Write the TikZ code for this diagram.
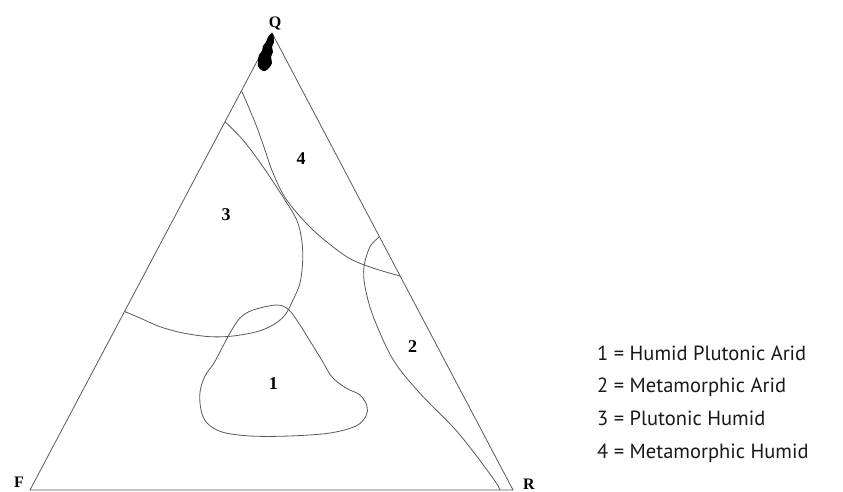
\documentclass[tikz,border=0pt]{standalone}
\usepackage{fontspec}
\setmainfont{Liberation Serif}
\newfontfamily\legendfont{PT Sans}
\begin{document}
\begin{tikzpicture}[x=1pt,y=-1pt,
  edge/.style={draw=black!65,line width=0.8pt},
  bound/.style={draw=black!65,line width=0.8pt,smooth,tension=0.55},
  vlab/.style={font=\fontsize{16}{16}\selectfont\bfseries,inner sep=0pt,anchor=base},
  numlab/.style={font=\fontsize{18}{18}\selectfont\bfseries,inner sep=0pt,anchor=base},
  leg/.style={font=\legendfont\fontsize{20.5}{20.5}\selectfont,inner sep=0pt,anchor=base west,text=black!90}]
\useasboundingbox (0,0) rectangle (843,491);
% vertices
\coordinate (F) at (30,490);
\coordinate (R) at (513,490);
\coordinate (Q) at (272,33);
\draw[edge] (F) -- (R) -- (Q) -- cycle;
% vertex labels
\node[vlab] (qlab) at (275,27) {Q};
\node[vlab] (flab) at (19,487) {F};
\node[vlab] (rlab) at (529,489) {R};
% data cluster near Q
\fill[black] plot[smooth cycle,tension=0.5] coordinates {(272,33) (268,37) (266,42) (263,46) (262,51) (259,55) (258,61) (258,66) (261,70) (265,71) (269,68) (272,63) (271,57) (273,52) (272,47) (274,42) (273.5,36)};
% region 4 boundary
\draw[bound] plot coordinates {(241.5,90.7) (249,108) (256.7,126.7) (265,150) (273,173) (286.7,200) (313,230) (346.7,256.7) (373,268) (400.1,276)};
% region 3 boundary
\draw[bound] plot coordinates {(225,121.7) (243,140) (263,166.7) (283,197) (296.7,220) (301.7,240) (302.7,260) (300,283) (293,300) (285,315) (273,325) (256.7,331.7) (233,336) (210,336.7) (183,333) (160,326.7) (140,318) (124.5,311.5)};
% region 1 boundary
\draw[bound] plot[smooth cycle] coordinates {(253,310) (276.7,305) (289,310) (300,325) (310,341) (321.7,360) (332,377) (346,388) (360,395) (367,406) (366,416) (356,426) (330,433) (290,436) (250,436) (222,432) (207,423) (201,410) (200,392) (205,376) (214,363) (222,348) (230,333) (240,318)};
% region 2 boundary
\draw[bound] plot coordinates {(379.5,236.7) (370,246.7) (364,266.7) (365,286.7) (373.3,316.7) (393.3,360) (420,393.3) (453,427) (472,450) (487,470) (497,484) (500,490)};
% region numbers
\node[numlab] (n4) at (301,164.5) {4};
\node[numlab] (n3) at (226,220.5) {3};
\node[numlab] (n1) at (273.3,389.8) {1};
\node[numlab] (n2) at (412.7,352.5) {2};
% legend
\node[leg] (l1) at (597,360) {1 = Humid Plutonic Arid};
\node[leg] (l2) at (597,392.5) {2 = Metamorphic Arid};
\node[leg] (l3) at (597,425.5) {3 = Plutonic Humid};
\node[leg] (l4) at (597,458) {4 = Metamorphic Humid};
\end{tikzpicture}
\end{document}
